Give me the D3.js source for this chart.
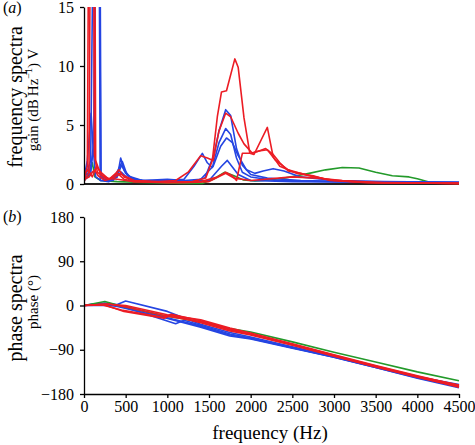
<!DOCTYPE html>
<html><head><meta charset="utf-8">
<script src="https://cdn.jsdelivr.net/npm/d3@7"></script>
<style>
html,body{margin:0;padding:0;background:#fff;}
svg{display:block;}
svg text{font-family:"Liberation Serif","Times New Roman",Times,serif !important;fill:#000;}
</style></head>
<body>
<svg id="chart" width="475" height="445"></svg>
<script>
// ---------- data (frequency in Hz, value) ----------
const freqTicks = [0,500,1000,1500,2000,2500,3000,3500,4000,4500];
const gainTicks = [0,5,10,15];
const phaseTicks = [-180,-90,0,90,180];

const gainRed1 = [[0,0.3],[40,1.5],[70,40],[105,40],[125,2.5],[160,1.0],[250,0.5],[400,0.4],[600,0.2],[1000,0.15],[1300,0.2],[1460,0.5],[1540,2.0],[1600,5.7],[1650,7.8],[1710,7.9],[1810,10.6],[1850,9.9],[1920,5.6],[1990,2.6],[2040,2.5],[2200,4.8],[2270,2.3],[2350,1.5],[2550,0.9],[2750,0.7],[2950,0.3],[3400,0.1],[4500,0.05]];
const gainRed2 = [[0,0.2],[60,1.0],[90,40],[120,40],[140,2.0],[200,0.8],[300,0.4],[380,0.9],[420,1.2],[480,0.6],[600,0.3],[900,0.2],[1100,0.3],[1250,1.0],[1400,2.4],[1480,2.2],[1550,2.0],[1620,4.5],[1700,6.0],[1760,5.7],[1850,4.3],[1920,3.4],[2020,2.6],[2100,2.8],[2180,3.0],[2270,2.5],[2350,1.8],[2450,1.1],[2600,0.9],[2900,0.4],[3300,0.15],[4500,0.05]];
const gainRed3 = [[0,0.4],[60,0.6],[100,1.0],[130,1.2],[170,0.7],[250,0.3],[350,0.5],[420,0.8],[480,0.4],[600,0.2],[1000,0.1],[1400,0.2],[1600,0.6],[1700,1.0],[1780,0.7],[1830,0.3],[1900,2.6],[2000,2.6],[2100,2.8],[2200,2.9],[2300,2.0],[2450,1.2],[2700,0.7],[3000,0.3],[3500,0.1],[4500,0.05]];
const gainRed4 = [[0,0.8],[50,1.2],[100,0.6],[150,1.5],[200,1.0],[300,0.4],[400,0.9],[450,0.8],[600,0.3],[900,0.15],[1200,0.1],[1500,0.2],[1700,0.9],[1800,0.5],[2000,0.3],[2500,0.6],[2800,0.5],[3100,0.3],[3600,0.1],[4500,0.05]];
const gainBlue1 = [[0,0.3],[80,0.8],[120,4],[145,40],[175,40],[200,1.0],[240,0.4],[320,0.3],[400,0.6],[440,2.2],[480,1.2],[560,0.5],[700,0.3],[900,0.2],[1100,0.3],[1300,0.2],[1450,0.5],[1560,2.5],[1620,4.5],[1700,6.3],[1760,5.8],[1830,3.0],[1900,1.6],[2000,0.8],[2200,0.5],[2600,0.3],[3200,0.2],[4500,0.12]];
const gainBlue2 = [[0,0.5],[40,2.0],[85,6.0],[110,3.0],[140,0.6],[200,0.3],[300,0.4],[400,0.7],[450,1.6],[500,0.9],[600,0.4],[800,0.2],[1000,0.3],[1200,0.4],[1320,1.5],[1420,2.6],[1480,1.8],[1540,1.4],[1620,3.5],[1700,4.7],[1760,4.2],[1830,2.2],[1900,1.0],[2000,0.6],[2300,0.3],[3000,0.2],[4500,0.15]];
const gainBlue3 = [[0,1.0],[60,0.8],[120,3],[150,40],[180,40],[205,0.6],[260,0.3],[350,0.3],[430,1.5],[460,1.9],[520,0.7],[700,0.3],[1000,0.4],[1200,0.3],[1400,0.4],[1550,1.5],[1640,3.2],[1710,3.9],[1780,3.5],[1850,2.4],[1950,1.2],[2050,0.9],[2150,1.1],[2270,1.3],[2400,1.1],[2600,0.6],[3000,0.3],[3600,0.2],[4500,0.15]];
const gainBlue4 = [[0,0.2],[80,2.0],[140,40],[170,40],[195,0.3],[300,0.2],[450,1.0],[550,0.3],[800,0.3],[1100,0.2],[1500,0.3],[1650,1.5],[1720,2.0],[1850,0.8],[2000,0.3],[2500,0.2],[3500,0.15],[4500,0.1]];
const gainGreen = [[0,0.3],[60,0.8],[100,1.8],[130,0.6],[200,0.3],[400,0.2],[800,0.1],[1200,0.05],[1420,0.05],[1550,0.4],[1690,1.0],[1800,0.7],[1910,0.35],[2050,0.25],[2150,0.3],[2400,0.5],[2556,0.7],[2700,0.9],[2900,1.2],[3100,1.4],[3300,1.35],[3500,1.0],[3700,0.7],[3900,0.6],[4000,0.45],[4150,0.15],[4300,0.08],[4500,0.05]];

const phaseRed1 = [[0,0],[250,3],[500,0],[1000,-19],[1400,-29],[1750,-46],[2000,-56],[2500,-78],[3000,-100],[3500,-122],[4000,-143],[4500,-163]];
const phaseRed2 = [[0,0],[200,2],[450,-9],[950,-24],[1050,-18],[1400,-31],[1750,-48],[2000,-58],[2500,-80],[3000,-102],[3500,-124],[4000,-145],[4500,-166]];
const phaseRed3 = [[0,0],[300,3],[500,-3],[1000,-22],[1400,-33],[1750,-50],[2000,-59],[2500,-79],[3000,-101],[3500,-123],[4000,-144],[4500,-162]];
const phaseRed4 = [[0,0],[250,1],[480,-12],[960,-26],[1040,-20],[1400,-35],[1750,-52],[2000,-60],[2500,-81],[3000,-103],[3500,-125],[4000,-146],[4500,-165]];
const phaseBlue1 = [[0,0],[100,3],[400,2],[500,9],[1000,-12],[1400,-38],[1750,-55],[2000,-64],[2500,-84],[3000,-104],[3500,-125],[4000,-146],[4500,-163]];
const phaseBlue2 = [[0,0],[400,0],[500,-4],[1100,-37],[1200,-30],[1400,-40],[1750,-58],[2000,-66],[2500,-86],[3000,-105],[3500,-126],[4000,-147],[4500,-165]];
const phaseBlue3 = [[0,0],[250,5],[500,-2],[1000,-25],[1400,-42],[1750,-60],[2000,-67],[2500,-86],[3000,-104],[3500,-125],[4000,-145],[4500,-161]];
const phaseBlue4 = [[0,0],[200,3],[400,-2],[900,-22],[1400,-44],[1750,-62],[2000,-68],[2500,-87],[3000,-105],[3500,-126],[4000,-148],[4500,-167]];
const phaseGreen = [[0,0],[250,8],[400,1],[1000,-22],[1400,-33],[1750,-47],[2000,-54],[2500,-74],[3000,-95],[3500,-115],[4000,-135],[4500,-153]];

const RED = "#ec1c24", BLUE = "#2545e2", GREEN = "#239a2a";
const gainSeries = [
  {d: gainGreen, c: GREEN},
  {d: gainBlue4, c: BLUE},{d: gainBlue3, c: BLUE},{d: gainBlue2, c: BLUE},{d: gainBlue1, c: BLUE},
  {d: gainRed4, c: RED},{d: gainRed3, c: RED},{d: gainRed2, c: RED},{d: gainRed1, c: RED}
];
const phaseSeries = [
  {d: phaseBlue4, c: BLUE},{d: phaseBlue3, c: BLUE},{d: phaseBlue2, c: BLUE},{d: phaseBlue1, c: BLUE},
  {d: phaseGreen, c: GREEN},
  {d: phaseRed4, c: RED},{d: phaseRed3, c: RED},{d: phaseRed2, c: RED},{d: phaseRed1, c: RED}
];

// ---------- drawing ----------
const FONT = "'Liberation Serif','Times New Roman',Times,serif";
const svg = d3.select("#chart");
const x = d3.scaleLinear().domain([0,4500]).range([84,459]);
const ya = d3.scaleLinear().domain([0,15]).range([184,7]);
const yb = d3.scaleLinear().domain([-180,180]).range([394,217]);

const defs = svg.append("defs");
defs.append("clipPath").attr("id","clipA").append("rect")
  .attr("x",84).attr("y",7).attr("width",376).attr("height",178);
defs.append("clipPath").attr("id","clipB").append("rect")
  .attr("x",84).attr("y",217).attr("width",377).attr("height",177);

const lineA = d3.line().x(d=>x(d[0])).y(d=>ya(d[1]));
const lineB = d3.line().x(d=>x(d[0])).y(d=>yb(d[1]));

// Panel (a)
svg.append("line").attr("x1",84).attr("x2",459).attr("y1",ya(0)).attr("y2",ya(0))
  .attr("stroke","#222").attr("stroke-width",2);
const gA = svg.append("g").attr("clip-path","url(#clipA)");
gA.selectAll("path").data(gainSeries).join("path")
  .attr("d",s=>lineA(s.d)).attr("fill","none").attr("stroke",s=>s.c)
  .attr("stroke-width",1.6).attr("stroke-linejoin","round");

function styleAxis(g){
  g.attr("font-family",FONT).attr("font-size",16);
  g.selectAll("text").attr("font-family",FONT).attr("font-size",16).attr("fill","#000");
  g.select(".domain").attr("stroke","#000").attr("stroke-width",1.3);
  g.selectAll(".tick line").attr("stroke","#000").attr("stroke-width",1.3);
}

const axA = svg.append("g").attr("transform","translate(84,0)")
  .call(d3.axisLeft(ya).tickValues(gainTicks).tickSize(4).tickSizeOuter(0).tickPadding(6).tickFormat(d3.format("d")));
styleAxis(axA);

// Panel (b)
const gB = svg.append("g").attr("clip-path","url(#clipB)");
gB.selectAll("path").data(phaseSeries).join("path")
  .attr("d",s=>lineB(s.d)).attr("fill","none").attr("stroke",s=>s.c)
  .attr("stroke-width",1.6).attr("stroke-linejoin","round");

const axB = svg.append("g").attr("transform","translate(84,0)")
  .call(d3.axisLeft(yb).tickValues(phaseTicks).tickSize(4).tickSizeOuter(0).tickPadding(6).tickFormat(d3.format("d")));
styleAxis(axB);

const axX = svg.append("g").attr("transform","translate(0,394)")
  .call(d3.axisBottom(x).tickValues(freqTicks).tickSize(4).tickSizeOuter(0).tickPadding(3).tickFormat(d3.format("d")));
styleAxis(axX);

// Labels
function label(txt, xx, yy, size, rotate){
  const t = svg.append("text").attr("font-size",size).attr("font-family",FONT).attr("text-anchor","middle");
  if(rotate) t.attr("transform",`translate(${xx},${yy}) rotate(-90)`);
  else t.attr("x",xx).attr("y",yy);
  t.text(txt);
  return t;
}
const ta = svg.append("text").attr("x",3).attr("y",13).attr("font-size",16).attr("font-family",FONT);
ta.append("tspan").text("(");
ta.append("tspan").attr("font-style","italic").text("a");
ta.append("tspan").text(")");
const tb = svg.append("text").attr("x",3).attr("y",222).attr("font-size",16).attr("font-family",FONT);
tb.append("tspan").text("(");
tb.append("tspan").attr("font-style","italic").text("b");
tb.append("tspan").text(")");

label("frequency spectra", 22, 97, 20, true);
const g1 = svg.append("text").attr("font-size",15).attr("font-family",FONT).attr("text-anchor","middle")
  .attr("transform","translate(38,100) rotate(-90)");
g1.append("tspan").text("gain (dB\u2009Hz");
g1.append("tspan").attr("font-size",10).attr("dy",-6).text("\u22121");
g1.append("tspan").attr("dy",6).text(") V");

label("phase spectra", 22, 308, 20, true);
label("phase (°)", 38, 302, 15, true);

label("frequency (Hz)", 270, 439, 19, false);
</script>
</body></html>
